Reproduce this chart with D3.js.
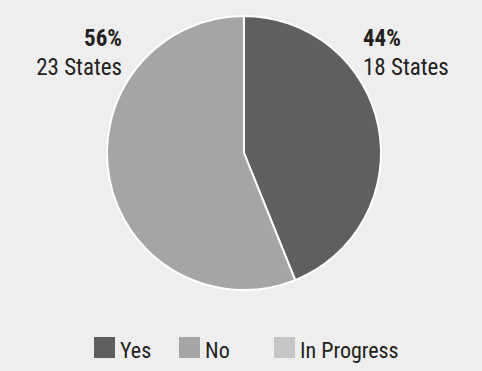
<!DOCTYPE html>
<html>
<head>
<meta charset="utf-8">
<script src="https://cdn.jsdelivr.net/npm/d3@7"></script>
<style>
  body { margin: 0; background: #eeeeee; }
  svg { display: block; }
  text { font-family: "Liberation Sans Narrow", "Arial Narrow", "Roboto Condensed", sans-serif; fill: #231f20; }
</style>
</head>
<body>
<svg id="chart" width="482" height="371"></svg>
<script>
// chart data
const categories = ["Yes", "No", "In Progress"];
const states = [18, 23, 0];
const percents = ["44%", "56%", "0%"];
const colors = ["#5f5f61", "#a5a5a7", "#c6c6c8"];

const width = 482, height = 371;
const cx = 244, cy = 153, radius = 137;

const svg = d3.select("#chart");

svg.append("rect").attr("width", width).attr("height", height).attr("fill", "#eeeeee");

const pie = d3.pie().sort(null).value(d => d)(states);
const arc = d3.arc().innerRadius(0).outerRadius(radius);

const g = svg.append("g").attr("transform", `translate(${cx},${cy})`);

g.selectAll("path")
  .data(pie)
  .enter().append("path")
  .attr("d", arc)
  .attr("fill", (d, i) => colors[i])
  .attr("stroke", "#ffffff")
  .attr("stroke-width", d => d.value > 0 ? 2 : 0)
  .attr("stroke-linejoin", "round");

// labels at the top corners of the pie
const labels = [
  { i: 0, x: cx + 119, anchor: "start" },
  { i: 1, x: cx - 122, anchor: "end" }
];
labels.forEach(l => {
  const t = svg.append("text")
    .attr("text-anchor", l.anchor)
    .attr("font-size", 23);
  t.append("tspan").attr("x", l.x).attr("y", 46)
    .attr("font-weight", "bold").text(percents[l.i]);
  t.append("tspan").attr("x", l.x).attr("y", 75)
    .text(states[l.i] + " States");
});

// legend
const legendOffsets = [94, 179, 274];
const legend = svg.append("g");
categories.forEach((c, i) => {
  const x = legendOffsets[i];
  legend.append("rect")
    .attr("x", x).attr("y", 337)
    .attr("width", 21).attr("height", 21)
    .attr("fill", colors[i]);
  legend.append("text")
    .attr("x", x + 26).attr("y", 358)
    .attr("font-size", 22)
    .text(c);
});
</script>
</body>
</html>
